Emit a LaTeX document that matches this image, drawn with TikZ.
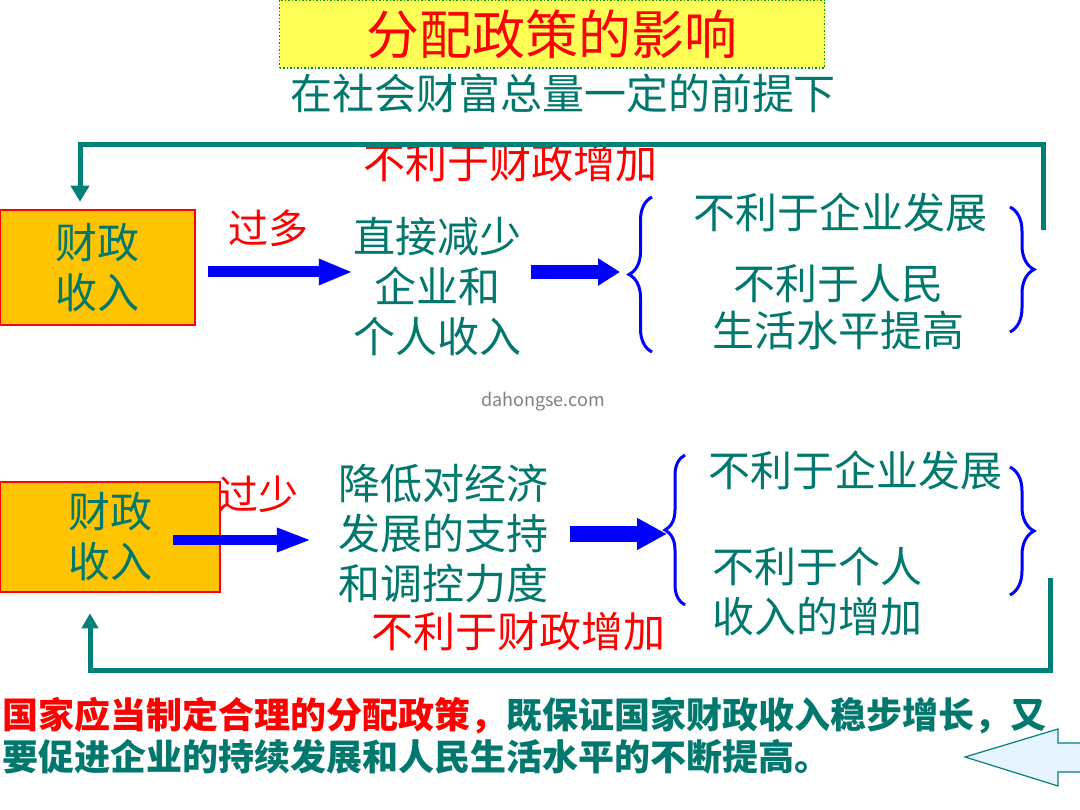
\documentclass[tikz,border=0pt]{standalone}
\usepackage{fontspec}
\setmainfont{Noto Sans CJK SC}
\usetikzlibrary{arrows.meta,positioning,calc,decorations.pathreplacing}
\definecolor{tealtext}{RGB}{0,120,110}
\definecolor{loopteal}{RGB}{0,128,120}
\definecolor{boxorange}{RGB}{255,196,0}
\definecolor{titleyellow}{RGB}{255,255,85}
\definecolor{dotgreen}{RGB}{0,150,0}
\definecolor{backfill}{RGB}{230,244,255}

\begin{document}
\begin{tikzpicture}[x=1pt,y=-1pt,
  txt/.style={text=tealtext,inner sep=0pt,align=center,font=\fontsize{42}{50}\selectfont},
  redtxt/.style={text=red,inner sep=0pt,font=\fontsize{42}{50}\selectfont},
  finbox/.style={draw=red,line width=2.5pt,fill=boxorange,inner sep=0pt,align=center,text=tealtext,font=\fontsize{42}{50}\selectfont},
  bigarrow/.style={draw=blue},
  loopline/.style={draw=loopteal,line width=5pt},
  bracket/.style={draw=blue,line width=3pt,decorate,decoration={brace,amplitude=#1}}]
\useasboundingbox (0,0) rectangle (1080,810);

% Title
\node[draw=dotgreen,dotted,line width=1.5pt,fill=titleyellow,minimum width=545pt,minimum height=68pt,inner sep=0pt,text=red,font=\fontsize{53}{60}\selectfont] (title) at (552,34) {分配政策的影响};
\node[txt] (premise) at (563,93) {在社会财富总量一定的前提下};

% Too much revenue
\node[finbox,minimum width=195pt,minimum height=115pt] (box1) at (97.5,267.5) {财政\\收入};
\node[redtxt] (lossT) at (510,163) {不利于财政增加};
\node[redtxt,font=\fontsize{40}{48}\selectfont] (much) at (268,228) {过多};
\node[txt] (reduce) at (437,287) {直接减少\\企业和\\个人收入};
\node[txt] (bad1) at (840,212) {不利于企业发展};
\node[txt,font=\fontsize{42}{47}\selectfont] (bad2) at (838,307) {不利于人民\\生活水平提高};
\draw[bracket=23pt] (652,352) -- (652,197);
\draw[bracket=24pt] (1010,207) -- (1010,332);
\coordinate (tipL1) at (629,272);
\coordinate (a1) at ($(box1.east)+(12,4.5)$);
\draw[bigarrow,line width=11pt,-{Triangle[length=34pt,width=24pt]}] (a1) -- (a1 -| reduce.west);
\draw[bigarrow,line width=14pt,-{Triangle[length=22pt,width=26pt]}] ($(reduce.east |- tipL1)+(10,0)$) -- ($(tipL1)+(-9,0)$);
\coordinate (topR) at (1043,230);
\draw[loopline,-{Triangle[length=16pt,width=18pt]}] (topR) |- (80,145) -- ($(box1.north)+(-17.5,-7)$);

% Too little revenue
\node[finbox,minimum width=220pt,minimum height=110pt] (box2) at (110,537) {财政\\收入};
\node[redtxt,font=\fontsize{40}{48}\selectfont] (few) at (258,494) {过少};
\node[txt] (lower) at (443,534) {降低对经济\\发展的支持\\和调控力度};
\node[txt] (bad3) at (855,470) {不利于企业发展};
\node[txt,align=left,anchor=west] (bad4) at (712,592) {不利于个人\\收入的增加};
\node[redtxt] (lossB) at (518,632) {不利于财政增加};
\draw[bracket=20pt] (685,605) -- (685,455);
\draw[bracket=24pt] (1010,467) -- (1010,595);
\coordinate (tipL2) at (667,534);
\coordinate (a3) at ($(box2.east)+(-48,3)$);
\draw[bigarrow,line width=10pt,-{Triangle[length=35pt,width=22pt]},shorten >=26pt] (a3) -- (a3 -| lower.west);
\draw[bigarrow,line width=16pt,-{Triangle[length=30pt,width=30pt]}] ($(lower.east)+(22,0)$) -- (tipL2);
\coordinate (botR) at (1050,578);
\draw[loopline,-{Triangle[length=15pt,width=16pt]}] (botR) |- (90,670) -- ($(box2.south)+(-20,20)$);

% watermark
\node[text=gray,font=\fontsize{18}{20}\selectfont] (mark) at (543,402) {dahongse.com};

% Conclusion
\node[anchor=west,inner sep=0pt,font=\bfseries\fontsize{36}{41}\selectfont] (advice1) at (2,716) {\textcolor{red}{国家应当制定合理的分配政策，}\textcolor{tealtext}{既保证国家财政收入稳步增长，又}};
\node[anchor=west,inner sep=0pt,text=tealtext,font=\bfseries\fontsize{36}{41}\selectfont] (advice2) at (2,757) {要促进企业的持续发展和人民生活水平的不断提高。};
\filldraw[draw=loopteal,fill=backfill,line width=1.2pt] (1081,743) -- (1058,743) -- (1058,729) -- (965,757) -- (1058,786) -- (1058,772) -- (1081,772);
\end{tikzpicture}
\end{document}
